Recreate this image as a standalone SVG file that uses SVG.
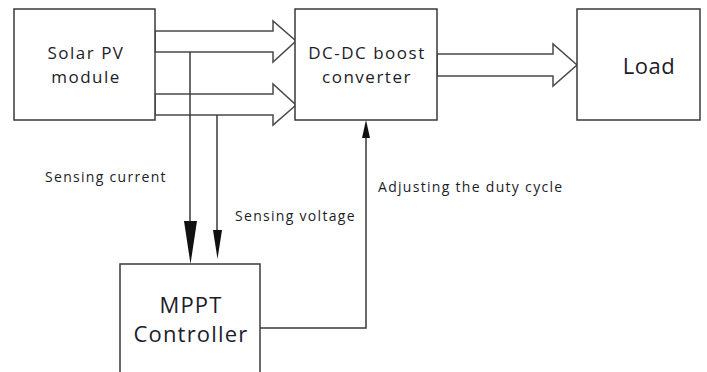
<svg xmlns="http://www.w3.org/2000/svg" width="707" height="372" viewBox="0 0 707 372">
<style>
.box{fill:#fff;stroke:#3a3a3a;stroke-width:1.5}
.blk{fill:#fff;stroke:#4a4a4a;stroke-width:1.5;stroke-linejoin:miter}
.ln{fill:none;stroke:#3a3a3a;stroke-width:1.5}
.hd{fill:#111;stroke:none}
text{font-family:"Open Sans","Noto Sans","Liberation Sans",sans-serif;fill:#1c1c2a}
.n{font-size:17px;text-anchor:middle;letter-spacing:1.5px}
.big{font-size:22px;text-anchor:middle;letter-spacing:1.2px}
.lbl{font-size:14px;letter-spacing:1.3px}
</style>
<rect width="707" height="372" fill="#fff"/>
<g id="connectors">
<polygon class="blk" points="155,31 273,31 273,21 296,41 273,62 273,52 155,52"/>
<polygon class="blk" points="155,94 273,94 273,84 296,105 273,125 273,115 155,115"/>
<polygon class="blk" points="437,54 553,54 553,44 577,65 553,86 553,76 437,76"/>
<line class="ln" x1="190" y1="52" x2="190" y2="225"/>
<polygon class="hd" points="184,221 197,221 190.5,264"/>
<line class="ln" x1="217" y1="115" x2="217" y2="233"/>
<polygon class="hd" points="213,230 222,230 217.5,259"/>
<polyline class="ln" points="260,328 366,328 366,136"/>
<polygon class="hd" points="362,138 370,138 366,120"/>
</g>
<g id="solar">
<rect class="box" x="14" y="9" width="141" height="111"/>
<text class="n" x="86" y="59">Solar PV</text>
<text class="n" x="86" y="83">module</text>
</g>
<g id="dcdc">
<rect class="box" x="295" y="9" width="142" height="111"/>
<text class="n" x="367" y="59">DC-DC boost</text>
<text class="n" x="367" y="83">converter</text>
</g>
<g id="load">
<rect class="box" x="577" y="9" width="123" height="111"/>
<text class="big" x="649" y="74" style="letter-spacing:0.5px">Load</text>
</g>
<g id="mppt">
<rect class="box" x="120" y="264" width="140" height="120"/>
<text class="big" x="191" y="313">MPPT</text>
<text class="big" x="191" y="342">Controller</text>
</g>
<g id="labels">
<text class="lbl" x="45" y="182">Sensing current</text>
<text class="lbl" x="235" y="221">Sensing voltage</text>
<text class="lbl" x="378" y="192">Adjusting the duty cycle</text>
</g>
</svg>
